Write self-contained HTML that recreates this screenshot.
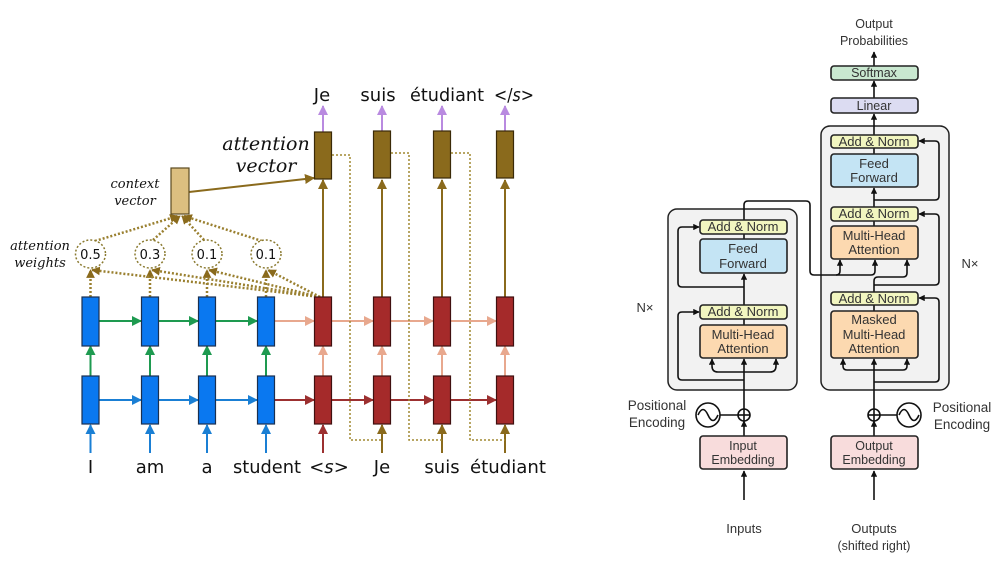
<!DOCTYPE html>
<html><head><meta charset="utf-8"><style>
html,body{margin:0;padding:0;background:#fff;}
svg{display:block;}
</style></head><body>
<svg width="1002" height="565" viewBox="0 0 1002 565" xmlns="http://www.w3.org/2000/svg">
<defs>
<marker id="ab" viewBox="0 0 10 10" refX="9" refY="5" markerWidth="5" markerHeight="5" orient="auto"><path d="M0,0L10,5L0,10z" fill="#1a7fd4"/></marker>
<marker id="ag" viewBox="0 0 10 10" refX="9" refY="5" markerWidth="5" markerHeight="5" orient="auto"><path d="M0,0L10,5L0,10z" fill="#1e9a50"/></marker>
<marker id="as" viewBox="0 0 10 10" refX="9" refY="5" markerWidth="5" markerHeight="5" orient="auto"><path d="M0,0L10,5L0,10z" fill="#e8a88e"/></marker>
<marker id="ar" viewBox="0 0 10 10" refX="9" refY="5" markerWidth="5" markerHeight="5" orient="auto"><path d="M0,0L10,5L0,10z" fill="#9c3030"/></marker>
<marker id="an" viewBox="0 0 10 10" refX="9" refY="5" markerWidth="5" markerHeight="5" orient="auto"><path d="M0,0L10,5L0,10z" fill="#8a6a1c"/></marker>
<marker id="ad" viewBox="0 0 10 10" refX="9" refY="5" markerWidth="3.5" markerHeight="3.5" orient="auto"><path d="M0,0L10,5L0,10z" fill="#8a6a1c"/></marker>
<marker id="ap" viewBox="0 0 10 10" refX="9" refY="5" markerWidth="5" markerHeight="5" orient="auto"><path d="M0,0L10,5L0,10z" fill="#b98ae0"/></marker>
<marker id="ak" viewBox="0 0 10 10" refX="9" refY="5" markerWidth="4" markerHeight="4" orient="auto"><path d="M0,0L10,5L0,10z" fill="#111"/></marker>
</defs>

<g stroke-width="2" fill="none">
<g stroke="#1a7fd4" marker-end="url(#ab)">
<line x1="90.5" y1="453" x2="90.5" y2="425"/><line x1="150" y1="453" x2="150" y2="425"/><line x1="207" y1="453" x2="207" y2="425"/><line x1="266" y1="453" x2="266" y2="425"/>
</g>
<g stroke="#9c3030" marker-end="url(#ar)">
<line x1="323" y1="453" x2="323" y2="425"/>
</g>
<g stroke="#8a6a1c" marker-end="url(#an)">
<line x1="382" y1="453" x2="382" y2="425"/><line x1="442" y1="453" x2="442" y2="425"/><line x1="505" y1="453" x2="505" y2="425"/>
</g>
<g stroke="#1a7fd4" marker-end="url(#ab)">
<line x1="99" y1="400" x2="141" y2="400"/><line x1="159" y1="400" x2="198" y2="400"/><line x1="216" y1="400" x2="257" y2="400"/>
</g>
<g stroke="#9c3030" marker-end="url(#ar)">
<line x1="275" y1="400" x2="314" y2="400"/><line x1="332" y1="400" x2="373" y2="400"/><line x1="391" y1="400" x2="433" y2="400"/><line x1="451" y1="400" x2="496" y2="400"/>
</g>
<g stroke="#1e9a50" marker-end="url(#ag)">
<line x1="90.5" y1="376" x2="90.5" y2="346"/><line x1="150" y1="376" x2="150" y2="346"/><line x1="207" y1="376" x2="207" y2="346"/><line x1="266" y1="376" x2="266" y2="346"/>
</g>
<g stroke="#e8a88e" marker-end="url(#as)">
<line x1="323" y1="376" x2="323" y2="346"/><line x1="382" y1="376" x2="382" y2="346"/><line x1="442" y1="376" x2="442" y2="346"/><line x1="505" y1="376" x2="505" y2="346"/>
</g>
<g stroke="#1e9a50" marker-end="url(#ag)">
<line x1="99" y1="321" x2="141" y2="321"/><line x1="159" y1="321" x2="198" y2="321"/><line x1="216" y1="321" x2="257" y2="321"/>
</g>
<g stroke="#e8a88e" marker-end="url(#as)">
<line x1="275" y1="321" x2="314" y2="321"/><line x1="332" y1="321" x2="373" y2="321"/><line x1="391" y1="321" x2="433" y2="321"/><line x1="451" y1="321" x2="496" y2="321"/>
</g>
<g stroke="#8a6a1c" marker-end="url(#an)">
<line x1="323" y1="297" x2="323" y2="180"/><line x1="382" y1="297" x2="382" y2="180"/><line x1="442" y1="297" x2="442" y2="180"/><line x1="505" y1="297" x2="505" y2="180"/>
<line x1="189" y1="192" x2="314" y2="178"/>
</g>
<g stroke="#b98ae0" marker-end="url(#ap)">
<line x1="323" y1="132" x2="323" y2="106"/><line x1="382" y1="132" x2="382" y2="106"/><line x1="442" y1="132" x2="442" y2="106"/><line x1="505" y1="132" x2="505" y2="106"/>
</g>
<g stroke="#a08830" stroke-width="1.5" stroke-dasharray="2,2">
<polyline points="332,155 350,155 350,440 382,440"/>
<polyline points="391,153 409,153 409,440 442,440"/>
<polyline points="451,153 470,153 470,440 505,440"/>
</g>
<g stroke="#9a8030" stroke-width="2.5" stroke-dasharray="2,2" marker-end="url(#ad)">
<line x1="90.5" y1="297" x2="90.5" y2="270"/><line x1="150" y1="297" x2="150" y2="270"/><line x1="207" y1="297" x2="207" y2="270"/><line x1="266" y1="297" x2="266" y2="270"/>
<line x1="320" y1="297" x2="92" y2="270"/><line x1="320" y1="297" x2="152" y2="270"/><line x1="320" y1="297" x2="209" y2="270"/><line x1="320" y1="297" x2="268" y2="270"/>
<line x1="95" y1="241" x2="178" y2="216"/><line x1="153" y1="240" x2="180" y2="216"/><line x1="204" y1="240" x2="182" y2="216"/><line x1="262" y1="241" x2="184" y2="216"/>
</g>
<g stroke="#8a7a30" stroke-width="1.5" stroke-dasharray="2,2" fill="#fff">
<ellipse cx="90.5" cy="254" rx="15" ry="14"/><ellipse cx="150" cy="254" rx="15" ry="14"/><ellipse cx="207" cy="254" rx="15" ry="14"/><ellipse cx="266" cy="254" rx="15" ry="14"/>
</g>
</g>
<g stroke="#1a3050" stroke-width="1.2" fill="#0a78f0">
<rect x="82" y="297" width="17" height="49"/><rect x="141.5" y="297" width="17" height="49"/><rect x="198.5" y="297" width="17" height="49"/><rect x="257.5" y="297" width="17" height="49"/>
<rect x="82" y="376" width="17" height="48"/><rect x="141.5" y="376" width="17" height="48"/><rect x="198.5" y="376" width="17" height="48"/><rect x="257.5" y="376" width="17" height="48"/>
</g>
<g stroke="#401010" stroke-width="1.2" fill="#a52a2a">
<rect x="314.5" y="297" width="17" height="49"/><rect x="373.5" y="297" width="17" height="49"/><rect x="433.5" y="297" width="17" height="49"/><rect x="496.5" y="297" width="17" height="49"/>
<rect x="314.5" y="376" width="17" height="48"/><rect x="373.5" y="376" width="17" height="48"/><rect x="433.5" y="376" width="17" height="48"/><rect x="496.5" y="376" width="17" height="48"/>
</g>
<g stroke="#3a2a08" stroke-width="1.2" fill="#8a6a1c">
<rect x="314.5" y="132" width="17" height="47"/><rect x="373.5" y="131" width="17" height="47"/><rect x="433.5" y="131" width="17" height="47"/><rect x="496.5" y="131" width="17" height="47"/>
</g>
<rect x="171" y="168" width="18" height="46" fill="#dcbf80" stroke="#5a4a20" stroke-width="1.2"/>

<g font-family="'DejaVu Sans','Liberation Sans',sans-serif" font-size="13" text-anchor="middle" fill="#111">
<text x="90.5" y="259">0.5</text><text x="150" y="259">0.3</text><text x="207" y="259">0.1</text><text x="266" y="259">0.1</text>
</g>
<g font-family="'DejaVu Serif','Liberation Serif',serif" font-style="italic" text-anchor="middle" fill="#111">
<text x="266" y="150" font-size="19">attention</text>
<text x="266" y="172" font-size="19">vector</text>
<text x="135" y="188" font-size="13">context</text>
<text x="135" y="205" font-size="13">vector</text>
<text x="40" y="250" font-size="13">attention</text>
<text x="40" y="267" font-size="13">weights</text>
</g>
<g font-family="'DejaVu Sans','Liberation Sans',sans-serif" font-size="18" text-anchor="middle" fill="#111">
<text x="90.5" y="473">I</text><text x="150" y="473">am</text><text x="207" y="473">a</text><text x="267" y="473" textLength="68" lengthAdjust="spacingAndGlyphs">student</text>
<text x="329" y="473">&lt;<tspan font-style="italic">s</tspan>&gt;</text><text x="382" y="473">Je</text><text x="442" y="473">suis</text><text x="508" y="473" textLength="76" lengthAdjust="spacingAndGlyphs">étudiant</text>
<text x="322" y="101">Je</text><text x="378" y="101">suis</text><text x="447" y="101" textLength="74" lengthAdjust="spacingAndGlyphs">étudiant</text><text x="514" y="101" textLength="40" lengthAdjust="spacingAndGlyphs">&lt;/<tspan font-style="italic">s</tspan>&gt;</text>
</g>

<g stroke="#222" stroke-width="1.5">
<rect x="668" y="209" width="129" height="181" rx="9" fill="#f2f2f2"/>
<rect x="821" y="126" width="128" height="264" rx="9" fill="#f2f2f2"/>
</g>
<g stroke="#111" stroke-width="1.6" fill="none">
<line x1="744" y1="500" x2="744" y2="471" marker-end="url(#ak)"/>
<line x1="744" y1="436" x2="744" y2="421" marker-end="url(#ak)"/>
<line x1="744" y1="409" x2="744" y2="359" marker-end="url(#ak)"/>
<path d="M744,372 H718 Q712,372 712,366 V359" marker-end="url(#ak)"/>
<path d="M744,372 H770 Q776,372 776,366 V359" marker-end="url(#ak)"/>
<path d="M744,380 H682 Q678,380 678,376 V316 Q678,312 682,312 H699" marker-end="url(#ak)"/>
<line x1="744" y1="325" x2="744" y2="319"/>
<line x1="744" y1="305" x2="744" y2="274" marker-end="url(#ak)"/>
<path d="M744,287 H682 Q678,287 678,283 V231 Q678,227 682,227 H699" marker-end="url(#ak)"/>
<line x1="744" y1="239" x2="744" y2="234"/>
<path d="M744,220 V205 Q744,201 748,201 H806 Q810,201 810,205 V271 Q810,275 814,275 H871 Q875,275 875,271 V260" marker-end="url(#ak)"/>
<path d="M836,275 Q840,275 840,271 V260" marker-end="url(#ak)"/>
<line x1="720" y1="415" x2="738" y2="415"/>
<line x1="874" y1="500" x2="874" y2="471" marker-end="url(#ak)"/>
<line x1="874" y1="436" x2="874" y2="421" marker-end="url(#ak)"/>
<line x1="874" y1="409" x2="874" y2="359" marker-end="url(#ak)"/>
<path d="M874,370 H847 Q843,370 843,366 V359" marker-end="url(#ak)"/>
<path d="M874,370 H903 Q907,370 907,366 V359" marker-end="url(#ak)"/>
<path d="M874,382 H935 Q939,382 939,378 V302 Q939,298 935,298 H919" marker-end="url(#ak)"/>
<line x1="874" y1="311" x2="874" y2="305"/>
<path d="M874,292 V281 Q874,277 878,277 H903 Q907,277 907,273 V260" marker-end="url(#ak)"/>
<path d="M874,285 H935 Q939,285 939,281 V218 Q939,214 935,214 H919" marker-end="url(#ak)"/>
<line x1="874" y1="226" x2="874" y2="221"/>
<line x1="874" y1="207" x2="874" y2="188" marker-end="url(#ak)"/>
<path d="M874,200 H935 Q939,200 939,196 V145 Q939,141 935,141 H919" marker-end="url(#ak)"/>
<line x1="874" y1="154" x2="874" y2="148"/>
<line x1="874" y1="135" x2="874" y2="114" marker-end="url(#ak)"/>
<line x1="874" y1="98" x2="874" y2="81" marker-end="url(#ak)"/>
<line x1="874" y1="66" x2="874" y2="52" marker-end="url(#ak)"/>
<line x1="880" y1="415" x2="897" y2="415"/>
<circle cx="744" cy="415" r="6" fill="#fff"/><line x1="738" y1="415" x2="750" y2="415"/><line x1="744" y1="409" x2="744" y2="421"/>
<circle cx="874" cy="415" r="6" fill="#fff"/><line x1="868" y1="415" x2="880" y2="415"/><line x1="874" y1="409" x2="874" y2="421"/>
<circle cx="708" cy="415" r="12" fill="#fff"/><path d="M698,415 Q703,404 708,415 T718,415"/>
<circle cx="909" cy="415" r="12" fill="#fff"/><path d="M899,415 Q904,404 909,415 T919,415"/>
</g>
<g stroke="#222" stroke-width="1.6">
<rect x="831" y="66" width="87" height="14" rx="3" fill="#c9e8d0"/>
<rect x="831" y="98" width="87" height="15" rx="3" fill="#dcdcf2"/>
<rect x="831" y="135" width="87" height="13" rx="3" fill="#f2f6c0"/>
<rect x="831" y="154" width="87" height="33" rx="3" fill="#c4e4f4"/>
<rect x="831" y="207" width="87" height="14" rx="3" fill="#f2f6c0"/>
<rect x="831" y="226" width="87" height="33" rx="3" fill="#fcd9b0"/>
<rect x="831" y="292" width="87" height="13" rx="3" fill="#f2f6c0"/>
<rect x="831" y="311" width="87" height="47" rx="3" fill="#fcd9b0"/>
<rect x="700" y="220" width="87" height="14" rx="3" fill="#f2f6c0"/>
<rect x="700" y="239" width="87" height="34" rx="3" fill="#c4e4f4"/>
<rect x="700" y="305" width="87" height="14" rx="3" fill="#f2f6c0"/>
<rect x="700" y="325" width="87" height="33" rx="3" fill="#fcd9b0"/>
<rect x="700" y="436" width="87" height="33" rx="3" fill="#f8dcdc"/>
<rect x="831" y="436" width="87" height="33" rx="3" fill="#f8dcdc"/>
</g>
<g font-family="'Liberation Sans',sans-serif" font-size="12.5" text-anchor="middle" fill="#333">
<text x="874" y="28">Output</text><text x="874" y="45">Probabilities</text>
<text x="874" y="77">Softmax</text><text x="874" y="110">Linear</text>
<text x="874" y="146" font-size="13">Add &amp; Norm</text>
<text x="874" y="168" font-size="13">Feed</text><text x="874" y="182" font-size="13">Forward</text>
<text x="874" y="218" font-size="13">Add &amp; Norm</text>
<text x="874" y="240" font-size="13">Multi-Head</text><text x="874" y="254" font-size="13">Attention</text>
<text x="874" y="303" font-size="13">Add &amp; Norm</text>
<text x="874" y="324" font-size="13">Masked</text><text x="874" y="339" font-size="13">Multi-Head</text><text x="874" y="353" font-size="13">Attention</text>
<text x="743" y="231" font-size="13">Add &amp; Norm</text>
<text x="743" y="253" font-size="13">Feed</text><text x="743" y="268" font-size="13">Forward</text>
<text x="743" y="316" font-size="13">Add &amp; Norm</text>
<text x="743" y="339" font-size="13">Multi-Head</text><text x="743" y="353" font-size="13">Attention</text>
<text x="743" y="450">Input</text><text x="743" y="464">Embedding</text>
<text x="874" y="450">Output</text><text x="874" y="464">Embedding</text>
<text x="744" y="533" font-size="13">Inputs</text>
<text x="874" y="533" font-size="13">Outputs</text><text x="874" y="550">(shifted right)</text>
<text x="657" y="410" font-size="13.5">Positional</text><text x="657" y="427" font-size="13.5">Encoding</text>
<text x="962" y="412" font-size="13.5">Positional</text><text x="962" y="429" font-size="13.5">Encoding</text>
<text x="645" y="312" font-size="13">N×</text><text x="970" y="268" font-size="13">N×</text>
</g>
</svg>
</body></html>
